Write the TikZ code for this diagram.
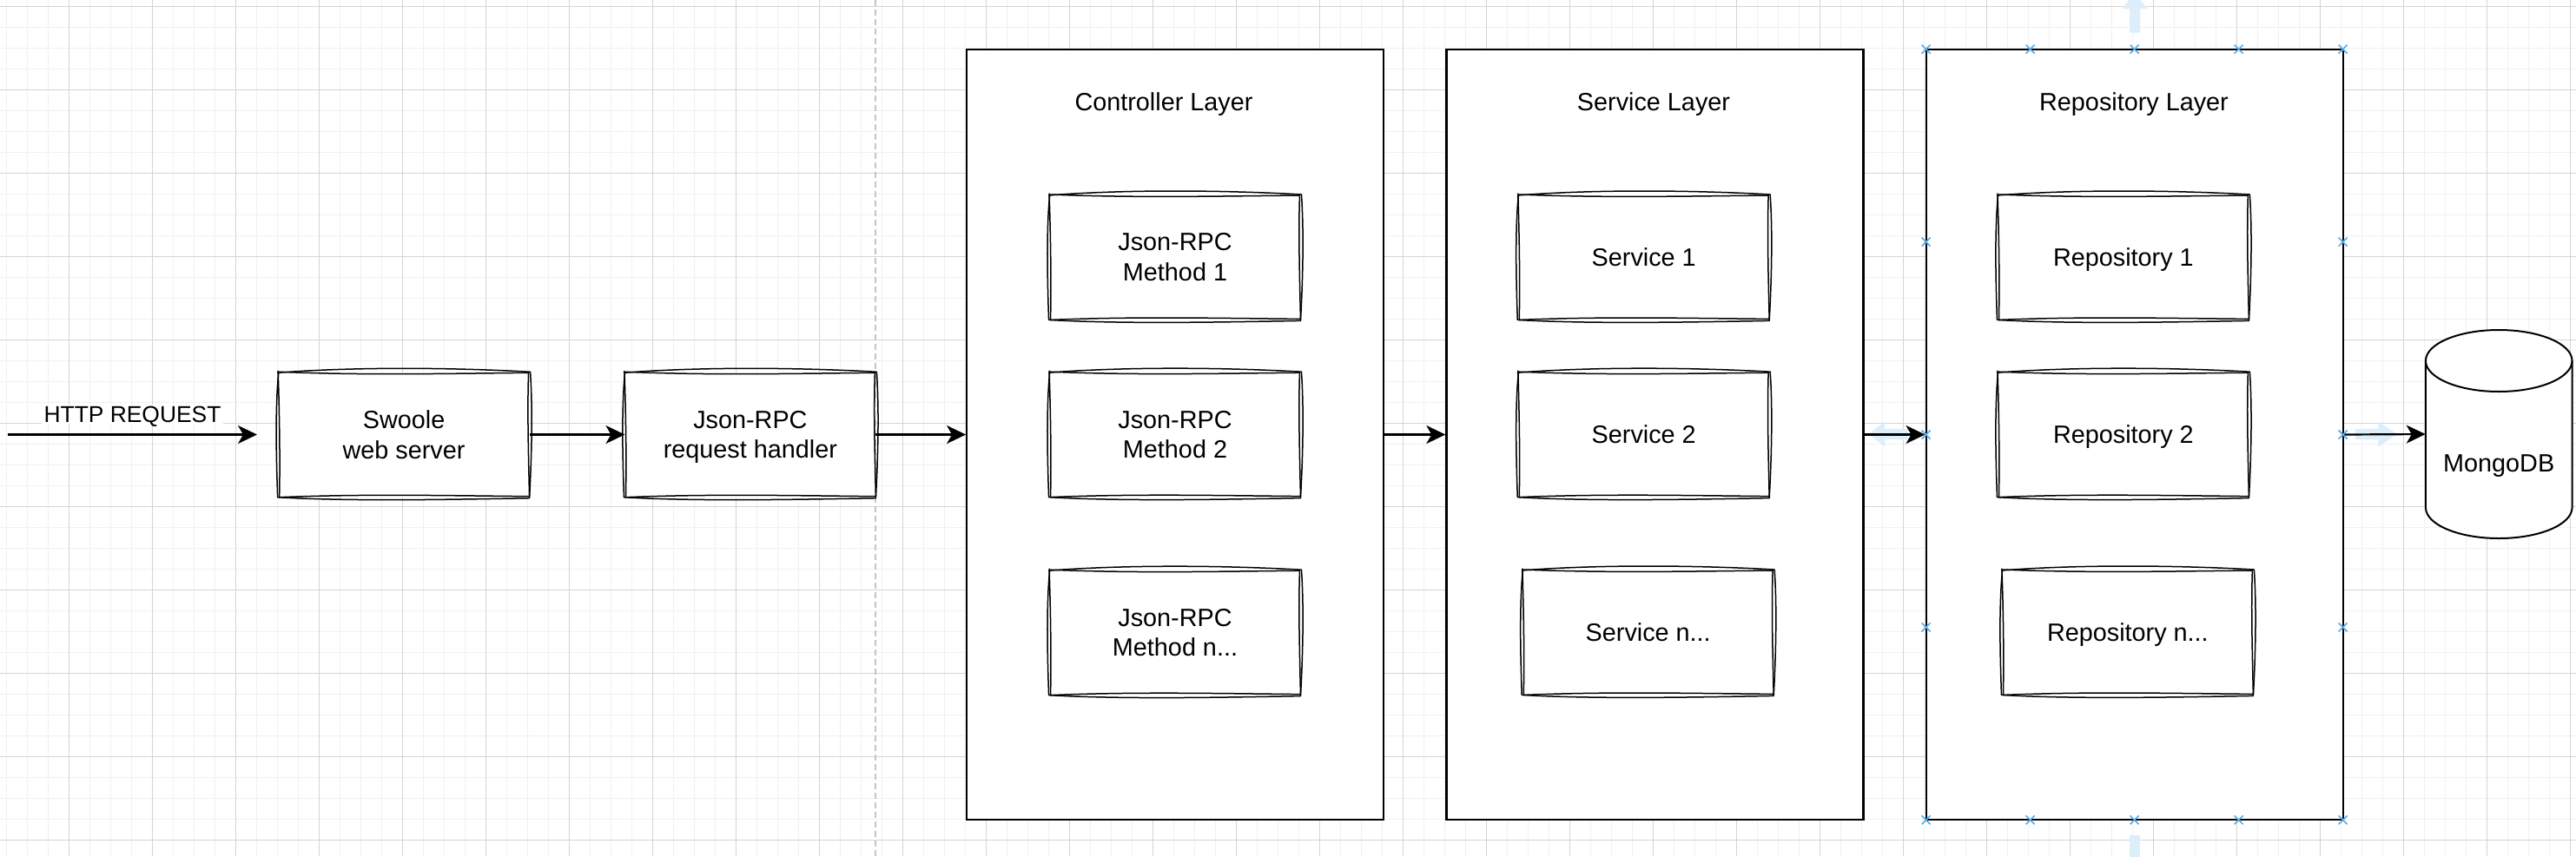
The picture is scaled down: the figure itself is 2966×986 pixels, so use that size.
\documentclass[tikz,border=0pt]{standalone}
\usepackage{fontspec}
\setmainfont{Liberation Sans}
\usetikzlibrary{arrows.meta,calc}
\definecolor{gridmin}{RGB}{241,241,241}
\definecolor{gridmaj}{RGB}{212,212,212}
\definecolor{pagebrk}{RGB}{196,196,196}
\definecolor{hintblue}{RGB}{221,238,251}
\definecolor{markblue}{RGB}{84,172,234}
\newcommand\skb[1]{%
\draw[sk] ($(#1.north west)+(-1,1)$)
 .. controls ($(#1.north west)!0.3!(#1.north east)+(0,-6)$) and ($(#1.north west)!0.7!(#1.north east)+(0,-5)$) .. ($(#1.north east)+(1,0)$)
 .. controls ($(#1.north east)!0.3!(#1.south east)+(4,0)$) and ($(#1.north east)!0.7!(#1.south east)+(2.5,0)$) .. ($(#1.south east)+(0,1)$)
 .. controls ($(#1.south east)!0.3!(#1.south west)+(0,2.5)$) and ($(#1.south east)!0.7!(#1.south west)+(0,5)$) .. ($(#1.south west)+(-1,0)$)
 .. controls ($(#1.south west)!0.3!(#1.north west)+(-2.5,0)$) and ($(#1.south west)!0.7!(#1.north west)+(-4,0)$) .. ($(#1.north west)+(0,1.5)$);
\draw[sk] ($(#1.north west)+(1,0)$)
 .. controls ($(#1.north west)!0.35!(#1.north east)+(0,4)$) and ($(#1.north west)!0.65!(#1.north east)+(0,2)$) .. ($(#1.north east)+(-1,1)$)
 .. controls ($(#1.north east)!0.3!(#1.south east)+(-2.5,0)$) and ($(#1.north east)!0.7!(#1.south east)+(-1,0)$) .. ($(#1.south east)+(0,-1)$)
 .. controls ($(#1.south east)!0.35!(#1.south west)+(0,-2)$) and ($(#1.south east)!0.65!(#1.south west)+(0,-4)$) .. ($(#1.south west)+(1,0)$)
 .. controls ($(#1.south west)!0.3!(#1.north west)+(2,0)$) and ($(#1.south west)!0.7!(#1.north west)+(1,0)$) .. ($(#1.north west)+(-0.5,-1)$);
}
\begin{document}
\begin{tikzpicture}[x=1pt,y=-1pt,
  every node/.style={inner sep=0pt},
  txt/.style={font=\fontsize{28.8}{34.6}\selectfont, align=center, text depth=0pt},
  lbl/.style={font=\fontsize{26.4}{31.7}\selectfont, fill=white, inner xsep=3pt, inner ysep=1.5pt, text height=19pt, text depth=0pt},
  layer/.style={rectangle, draw=black, line width=2.2pt, fill=white, minimum width=480pt, minimum height=887.6pt},
  skbox/.style={rectangle, fill=white, minimum width=288.5pt, minimum height=144pt, txt},
  sk/.style={line width=1.5pt, line join=round, line cap=round},
  conn/.style={line width=2.2pt, -{Stealth[length=22pt,width=21pt,inset=6pt]}},
  gmin/.style={line width=1.2pt, draw=gridmin},
  gmaj/.style={line width=1.2pt, draw=gridmaj},
  pbreak/.style={line width=1.6pt, draw=pagebrk, dash pattern=on 7pt off 4pt},
  hint/.style={fill=hintblue, draw=none},
  xmark/.style={draw=markblue, line width=1.6pt},
  cyl/.style={draw=black, line width=2pt, fill=white}
]
\useasboundingbox (0,0) rectangle (2966,986);
\fill[white] (0,0) rectangle (2966,986);
% grid
\foreach \i in {0,...,123} { \draw[gmin] ({7.3+24*\i},0) -- ({7.3+24*\i},986); }
\foreach \i in {0,...,40} { \draw[gmin] (0,{7.3+24*\i}) -- (2966,{7.3+24*\i}); }
\foreach \i in {0,...,30} { \draw[gmaj] ({79.3+96*\i},0) -- ({79.3+96*\i},986); }
\foreach \i in {0,...,10} { \draw[gmaj] (0,{7.3+96*\i}) -- (2966,{7.3+96*\i}); }
% page break
\draw[pbreak] (1007.7,0) -- (1007.7,986);

% layers
\node[layer] (ctrl) at (1353.2,500.5) {};
\node[layer] (svc) at (1905.4,500.5) {};
\node[layer] (repo) at (2457.6,500.5) {};
\node[txt] (ctrltitle) at (1340,117) {Controller Layer};
\node[txt] (svctitle) at (1904,117) {Service Layer};
\node[txt] (repotitle) at (2457,117) {Repository Layer};

% left boxes
\node[skbox] (swoole) at (465.1,500.5) {Swoole\\web server};
\node[skbox] (handler) at (863.9,500.5) {Json-RPC\\request handler};
% controller boxes
\node[skbox] (m1) at (1353,296.2) {Json-RPC\\Method 1};
\node[skbox] (m2) at (1353,500.4) {Json-RPC\\Method 2};
\node[skbox] (mn) at (1353,728.4) {Json-RPC\\Method n...};
% service boxes
\node[skbox] (s1) at (1892.7,296.2) {Service 1};
\node[skbox] (s2) at (1892.7,500.4) {Service 2};
\node[skbox] (sn) at (1897.7,728.2) {Service n...};
% repository boxes
\node[skbox] (r1) at (2444.9,296.2) {Repository 1};
\node[skbox] (r2) at (2444.9,500.4) {Repository 2};
\node[skbox] (rn) at (2449.9,728.2) {Repository n...};
\foreach \b in {swoole,handler,m1,m2,mn,s1,s2,sn,r1,r2,rn} { \skb{\b} }

% MongoDB cylinder (outline drawn first, then the named node with its text on top)
\coordinate (mongoc) at (2877.2,500);
\path[cyl] ($(mongoc)+(-84.3,-84.5)$) -- ($(mongoc)+(-84.3,84.5)$)
  arc[start angle=180, end angle=360, x radius=84.3pt, y radius=35.5pt]
  -- ($(mongoc)+(84.3,-84.5)$)
  arc[start angle=0, end angle=180, x radius=84.3pt, y radius=35.5pt] -- cycle;
\draw[line width=2pt] ($(mongoc)+(-84.3,-84.5)$) arc[start angle=180, end angle=360, x radius=84.3pt, y radius=35.5pt];
\node[rectangle, minimum width=168.6pt, minimum height=240pt, txt, text height=86pt] (mongo) at (mongoc) {MongoDB};

% faint connection hints around the repository layer
\fill[hint] (2151.7,500) -- (2170,485.5) -- (2170,494) -- (2197,494) -- (2197,506) -- (2170,506) -- (2170,514.5) -- cycle;
\fill[hint] (2760,500) -- (2738.3,485.5) -- (2738.3,494) -- (2711.7,494) -- (2711.7,506) -- (2738.3,506) -- (2738.3,514.5) -- cycle;
\fill[hint] (2458,-8) -- (2443.5,10) -- (2452,10) -- (2452,37.7) -- (2464,37.7) -- (2464,10) -- (2472.5,10) -- cycle;
\fill[hint] (2452,962) rectangle (2464,990);

% connectors
\coordinate (httpstart) at (9,500.5);
\coordinate (httpend) at (296,500.5);
\draw[conn] (httpstart) -- node[lbl, yshift=24pt] (httplabel) {HTTP REQUEST} (httpend);
\draw[conn] (swoole.east) -- (handler.west);
\draw[conn] (handler.east) -- (ctrl.west);
\draw[conn] (ctrl.east) -- (svc.west);
\draw[conn] (svc.east) -- (repo.west);
\draw[conn] (repo.east) -- (mongo.west);

% selection markers
\foreach \px in {2217.6,2337.6,2457.6,2577.6,2697.6} {
  \foreach \py in {56.7,944.3} {
    \draw[xmark] (\px-5,\py-5) -- (\px+5,\py+5) (\px-5,\py+5) -- (\px+5,\py-5);
  }
}
\foreach \py in {278.6,500.5,722.4} {
  \foreach \px in {2217.6,2697.6} {
    \draw[xmark] (\px-5,\py-5) -- (\px+5,\py+5) (\px-5,\py+5) -- (\px+5,\py-5);
  }
}
\end{tikzpicture}
\end{document}
